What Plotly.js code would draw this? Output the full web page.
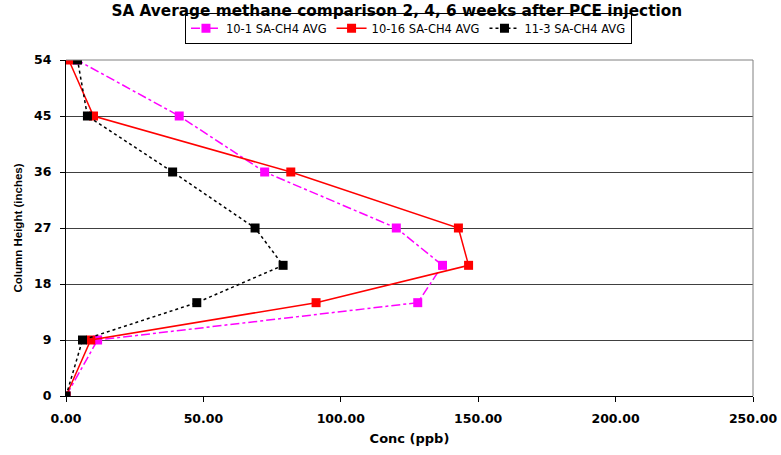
<!DOCTYPE html>
<html>
<head>
<meta charset="utf-8">
<script src="https://cdn.plot.ly/plotly-3.0.1.min.js"></script>
<style>
  body { margin: 0; background: #fff; }
  #chart { width: 781px; height: 455px; }
</style>
</head>
<body>
<div id="chart"></div>
<script>
// column heights (inches)
var heights = [0, 9, 15, 21, 27, 36, 45, 54];

// methane conc (ppb)
var conc_10_1  = [0, 11.5, 128.0, 137.0, 120.2, 72.3, 41.2, 4.0];
var conc_10_16 = [0, 9.0, 91.0, 146.5, 142.8, 81.8, 10.0, 1.0];
var conc_11_3  = [0, 6.0, 47.6, 79.0, 68.8, 38.8, 7.8, 4.2];

var yTicks = [0, 9, 18, 27, 36, 45, 54];
var xTicks = [0, 50, 100, 150, 200, 250];

var wide = 'DejaVu Sans, Verdana, sans-serif';
var narrow = 'Liberation Sans, Arial, sans-serif';

var trace1 = {
    x: conc_10_1, y: heights,
    name: '10-1 SA-CH4 AVG',
    type: 'scatter', mode: 'lines+markers',
    line: { color: '#ff00ff', width: 1.5, dash: 'dashdot' },
    marker: { color: '#ff00ff', symbol: 'square', size: 9 }
};
var trace2 = {
    x: conc_10_16, y: heights,
    name: '10-16 SA-CH4 AVG',
    type: 'scatter', mode: 'lines+markers',
    line: { color: '#ff0000', width: 1.5 },
    marker: { color: '#ff0000', symbol: 'square', size: 9 }
};
var trace3 = {
    x: conc_11_3, y: heights,
    name: '11-3 SA-CH4 AVG',
    type: 'scatter', mode: 'lines+markers',
    line: { color: '#000000', width: 1.5, dash: 'dot' },
    marker: { color: '#000000', symbol: 'square', size: 9 }
};

var layout = {
    width: 781,
    height: 455,
    margin: { l: 66, r: 28, t: 60, b: 59 },
    paper_bgcolor: '#ffffff',
    plot_bgcolor: '#ffffff',
    font: { family: wide, color: '#000' },
    title: {
        text: '<b>SA Average methane comparison 2, 4, 6 weeks after PCE injection</b>',
        font: { size: 15.3, family: wide },
        x: 0.508, xanchor: 'center',
        y: 0.976, yanchor: 'middle'
    },
    showlegend: true,
    legend: {
        orientation: 'h',
        x: 0.4985, xanchor: 'center',
        y: 1.048, yanchor: 'bottom',
        bordercolor: '#000', borderwidth: 1,
        font: { size: 11.5, family: wide },
        itemwidth: 30
    },
    xaxis: {
        range: [0, 250],
        tickvals: xTicks,
        ticktext: xTicks.map(function (v) { return '<b>' + v.toFixed(2) + '</b>'; }),
        showgrid: false,
        zeroline: false,
        showline: true, linecolor: '#000', linewidth: 1,
        ticks: 'outside', ticklen: 5, tickcolor: '#000',
        ticklabelstandoff: 6,
        tickfont: { size: 12.5, family: wide },
        title: { text: '<b>Conc (ppb)</b>', font: { size: 13, family: wide }, standoff: 8 }
    },
    yaxis: {
        range: [0, 54],
        tickvals: yTicks,
        ticktext: yTicks.map(function (v) { return '<b>' + v + '</b>'; }),
        showgrid: true, gridcolor: '#404040', gridwidth: 1,
        zeroline: false,
        showline: true, linecolor: '#000', linewidth: 1,
        ticks: 'outside', ticklen: 5, tickcolor: '#000',
        ticklabelstandoff: 6,
        tickfont: { size: 12.5, family: wide },
        title: { text: '<b>Column Height (inches)</b>', font: { size: 11.5, family: narrow }, standoff: 9 }
    },
    shapes: [
        { type: 'line', xref: 'paper', yref: 'paper', x0: 1, x1: 1, y0: 0, y1: 1,
          line: { color: '#808080', width: 1 } },
        { type: 'line', xref: 'paper', yref: 'paper', x0: 0, x1: 1, y0: 1, y1: 1,
          line: { color: '#808080', width: 1 } }
    ]
};

Plotly.newPlot('chart', [trace1, trace2, trace3], layout, { displayModeBar: false });
</script>
</body>
</html>
